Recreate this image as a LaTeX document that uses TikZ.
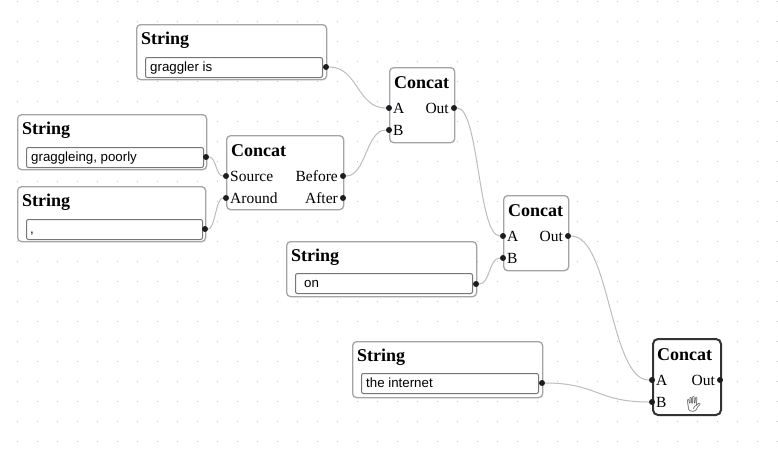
\documentclass[tikz,border=0pt]{standalone}
\usepackage{fontspec}
\setmainfont{Liberation Serif}
\newfontfamily\inpfont{Liberation Sans}
\newfontfamily\emojifont{Noto Emoji}
\definecolor{boxgray}{HTML}{A4A4A4}
\definecolor{selgray}{HTML}{333333}
\definecolor{fieldgray}{HTML}{767676}
\definecolor{wiregray}{HTML}{BDBDBD}
\definecolor{portc}{HTML}{1C1C24}
\definecolor{gridc}{HTML}{C4C4C4}
\tikzset{
 box/.style={draw=boxgray, line width=1.3pt, rounded corners=4pt, fill=white, anchor=north west, inner sep=0pt},
 strbox/.style={box, minimum width=190pt, minimum height=55pt},
 selbox/.style={box, draw=selgray, line width=2pt, rounded corners=5pt},
 field/.style={draw=fieldgray, line width=1pt, rounded corners=2pt, fill=white, anchor=north west, inner sep=0pt, minimum width=177pt, minimum height=20pt},
 wire/.style={draw=wiregray, line width=1pt},
 port/.style={circle, fill=portc, inner sep=0pt, minimum size=6pt},
 title/.style={anchor=base west, inner sep=0pt, font=\fontsize{18}{20}\selectfont\bfseries},
 plab/.style={anchor=base west, inner sep=0pt, font=\fontsize{15.5}{17}\selectfont},
 plabr/.style={plab, anchor=base east},
 ftext/.style={anchor=base west, inner sep=0pt, font=\inpfont\fontsize{13.3}{15}\selectfont},
}
\begin{document}
\begin{tikzpicture}[x=1pt,y=-1pt]
\useasboundingbox[fill=white] (0,0) rectangle (778,451);
% dotted grid
\foreach \i in {0,...,38}{
  \foreach \j in {0,...,22}{
    \fill[gridc] (17+20*\i-0.5, 1+20*\j-0.5) rectangle +(1,1);
  }
}
% ---------- String boxes ----------
% S1
\node[strbox] (s1) at (136,24) {};
\node[title] (s1h) at (141,44) {String};
\node[field] (s1f) at (145,57) {};
\node[ftext] (s1t) at (150,71) {graggler is};
% S2
\node[strbox, minimum width=189pt] (s2) at (17,114) {};
\node[title] (s2h) at (22,134) {String};
\node[field] (s2f) at (26,147) {};
\node[ftext] (s2t) at (31,161) {graggleing, poorly};
% S3
\node[strbox, minimum width=188pt] (s3) at (17,186) {};
\node[title] (s3h) at (22,206) {String};
\node[field, minimum width=176pt] (s3f) at (26,219) {};
\node[ftext] (s3t) at (30,233) {,};
% S4
\node[strbox] (s4) at (286,241) {};
\node[title] (s4h) at (291,261) {String};
\node[field] (s4f) at (295,273) {};
\node[ftext] (s4t) at (304,287) {on};
% S5
\node[strbox, minimum height=56pt] (s5) at (352,341) {};
\node[title] (s5h) at (357,361) {String};
\node[field] (s5f) at (361,373) {};
\node[ftext] (s5t) at (366,387) {the internet};
% ---------- Concat boxes ----------
% C1
\node[box, minimum width=65pt, minimum height=75pt] (c1) at (389,67) {};
\node[title] (c1h) at (394,88) {Concat};
\node[plab] (c1al) at (393,113) {A};
\node[plab] (c1bl) at (393,135) {B};
\node[plabr] (c1ol) at (449,113) {Out};
% C2
\node[box, minimum width=117pt, minimum height=74pt] (c2) at (226,135) {};
\node[title] (c2h) at (231,156) {Concat};
\node[plab] (c2sl) at (230,181) {Source};
\node[plab] (c2rl) at (230,203) {Around};
\node[plabr] (c2bl) at (338,181) {Before};
\node[plabr] (c2fl) at (338,203) {After};
% C3
\node[box, minimum width=65pt, minimum height=75pt] (c3) at (503,195) {};
\node[title] (c3h) at (508,216) {Concat};
\node[plab] (c3al) at (507,241) {A};
\node[plab] (c3bl) at (507,263) {B};
\node[plabr] (c3ol) at (563,241) {Out};
% C4 (selected)
\node[selbox, minimum width=68pt, minimum height=76pt] (c4) at (652,338) {};
\node[title] (c4h) at (657,360) {Concat};
\node[plab] (c4al) at (656,385) {A};
\node[plab] (c4bl) at (656,407) {B};
\node[plabr] (c4ol) at (715,385) {Out};
\node[inner sep=0pt, font=\emojifont\fontsize{15}{15}\selectfont, text=selgray] (hand) at (694,404) {🖐};
% ---------- ports ----------
\node[port] (s1o) at (326,67) {};
\node[port] (s2o) at (206,157) {};
\node[port] (s3o) at (205,229) {};
\node[port] (s4o) at (476,284) {};
\node[port] (s5o) at (542,383) {};
\node[port] (c1a) at (389,108) {};
\node[port] (c1b) at (389,130) {};
\node[port] (c1o) at (454,108) {};
\node[port] (c2s) at (226,176) {};
\node[port] (c2r) at (226,198) {};
\node[port] (c2b) at (343,176) {};
\node[port] (c2f) at (343,198) {};
\node[port] (c3a) at (503,236) {};
\node[port] (c3b) at (503,258) {};
\node[port] (c3o) at (568,236) {};
\node[port] (c4a) at (652,380) {};
\node[port] (c4b) at (652,402) {};
\node[port] (c4o) at (720,380) {};
% ---------- wires ----------
\draw[wire] (s1o) .. controls +(32,0) and +(-32,0) .. (c1a);
\draw[wire] (c2b) .. controls +(23,0) and +(-23,0) .. (c1b);
\draw[wire] (s2o) .. controls +(10,0) and +(-10,0) .. (c2s);
\draw[wire] (s3o) .. controls +(10,0) and +(-10,0) .. (c2r);
\draw[wire] (c1o) .. controls +(25,0) and +(-25,0) .. (c3a);
\draw[wire] (s4o) .. controls +(14,0) and +(-14,0) .. (c3b);
\draw[wire] (c3o) .. controls +(42,0) and +(-42,0) .. (c4a);
\draw[wire] (s5o) .. controls +(55,0) and +(-55,0) .. (c4b);
\end{tikzpicture}
\end{document}
